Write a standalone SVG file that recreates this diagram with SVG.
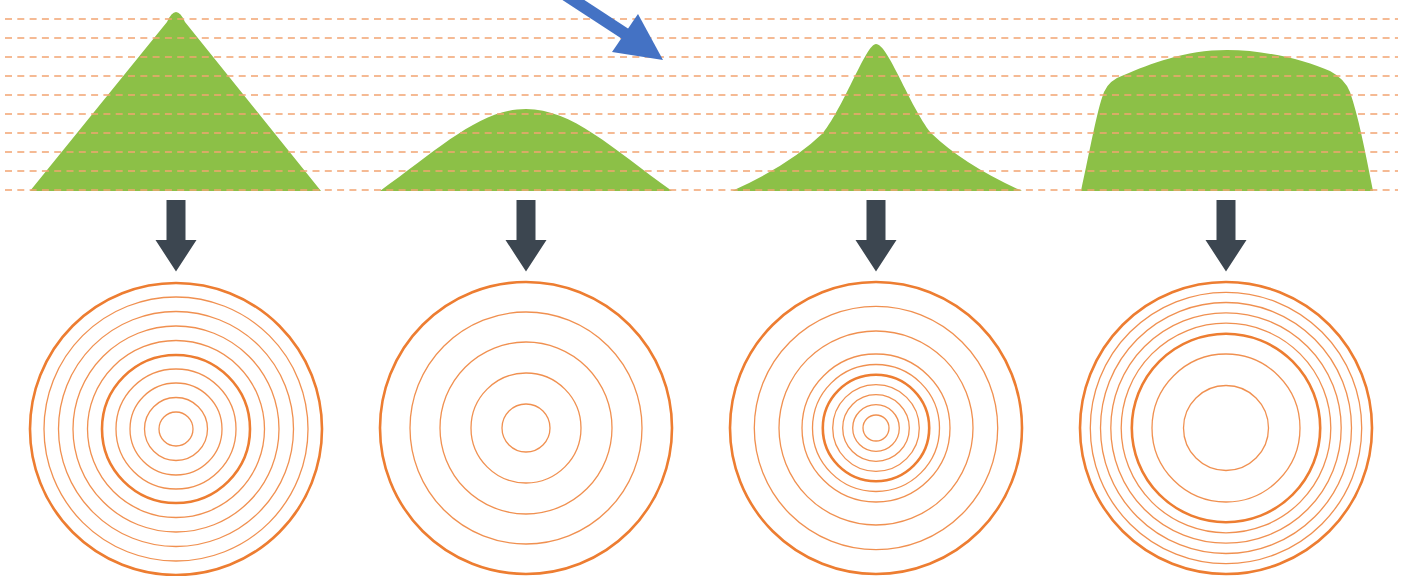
<svg xmlns="http://www.w3.org/2000/svg" width="1407" height="576" viewBox="0 0 1407 576">
<style>
.bg{fill:#ffffff}
.hill{fill:#8CC047}
.grid line{stroke:#F2A472;stroke-width:1.3;stroke-dasharray:7 5.3}
.ring{fill:none;stroke:#ED7D31;stroke-width:1.3;opacity:0.85}
.ring.thick{stroke-width:2.6;opacity:1}
.down{fill:#3C4650}
</style>
<rect class="bg" x="0" y="0" width="1407" height="576"/>
<g id="hills">
<path id="hill-1" class="hill" d="M30,191 L167,22 Q176,2 185,22 L321,191 Z"/>
<path id="hill-2" class="hill" d="M380,191 C440,148 480,109 526,109 C572,109 612,148 672,191 Z"/>
<path id="hill-3" class="hill" d="M732,191 Q790,165 823,133 C845,105 866,44 876,44 C888,44 909,105 931,133 Q964,165 1022,191 Z"/>
<path id="hill-4" class="hill" d="M1081,191 C1090,150 1097,110 1104,92 Q1109,80 1124,75 C1150,64 1185,50 1227,50 C1265,50 1305,60 1330,71 Q1345,79 1350,92 C1358,115 1365,150 1373,191 Z"/>
</g>
<g class="grid" id="grid">
<line x1="5" y1="19" x2="1398" y2="19"/>
<line x1="5" y1="38" x2="1398" y2="38"/>
<line x1="5" y1="57" x2="1398" y2="57"/>
<line x1="5" y1="76" x2="1398" y2="76"/>
<line x1="5" y1="95" x2="1398" y2="95"/>
<line x1="5" y1="114" x2="1398" y2="114"/>
<line x1="5" y1="133" x2="1398" y2="133"/>
<line x1="5" y1="152" x2="1398" y2="152"/>
<line x1="5" y1="171" x2="1398" y2="171"/>
<line x1="5" y1="190" x2="1398" y2="190"/>
</g>
<g id="rings-1">
<circle class="ring thick" cx="176" cy="429" r="146"/>
<circle class="ring" cx="176" cy="429" r="132"/>
<circle class="ring" cx="176" cy="429" r="117.5"/>
<circle class="ring" cx="176" cy="429" r="103"/>
<circle class="ring" cx="176" cy="429" r="88.5"/>
<circle class="ring thick" cx="176" cy="429" r="74"/>
<circle class="ring" cx="176" cy="429" r="60"/>
<circle class="ring" cx="176" cy="429" r="46"/>
<circle class="ring" cx="176" cy="429" r="31.5"/>
<circle class="ring" cx="176" cy="429" r="17"/>
</g>
<g id="rings-2">
<circle class="ring thick" cx="526" cy="428" r="146"/>
<circle class="ring" cx="526" cy="428" r="116"/>
<circle class="ring" cx="526" cy="428" r="86"/>
<circle class="ring" cx="526" cy="428" r="55"/>
<circle class="ring" cx="526" cy="428" r="24"/>
</g>
<g id="rings-3">
<circle class="ring thick" cx="876" cy="428" r="146"/>
<circle class="ring" cx="876" cy="428" r="121.7"/>
<circle class="ring" cx="876" cy="428" r="97"/>
<circle class="ring" cx="876" cy="428" r="74"/>
<circle class="ring" cx="876" cy="428" r="63.5"/>
<circle class="ring thick" cx="876" cy="428" r="53.2"/>
<circle class="ring" cx="876" cy="428" r="43.3"/>
<circle class="ring" cx="876" cy="428" r="33.3"/>
<circle class="ring" cx="876" cy="428" r="23.3"/>
<circle class="ring" cx="876" cy="428" r="13"/>
</g>
<g id="rings-4">
<circle class="ring thick" cx="1226" cy="428" r="146"/>
<circle class="ring" cx="1226" cy="428" r="135.7"/>
<circle class="ring" cx="1226" cy="428" r="125.5"/>
<circle class="ring" cx="1226" cy="428" r="115.2"/>
<circle class="ring" cx="1226" cy="428" r="104.8"/>
<circle class="ring thick" cx="1226" cy="428" r="94.2"/>
<circle class="ring" cx="1226" cy="428" r="74"/>
<circle class="ring" cx="1226" cy="428" r="42.5"/>
</g>
<g id="connectors">
<path id="down-1" class="down" d="M166.5,200 H185.5 V240 H196.5 L176,271.5 L155.5,240 H166.5 Z"/>
<path id="down-2" class="down" d="M516.5,200 H535.5 V240 H546.5 L526,271.5 L505.5,240 H516.5 Z"/>
<path id="down-3" class="down" d="M866.5,200 H885.5 V240 H896.5 L876,271.5 L855.5,240 H866.5 Z"/>
<path id="down-4" class="down" d="M1216.5,200 H1235.5 V240 H1246.5 L1226,271.5 L1205.5,240 H1216.5 Z"/>
<g id="blue-arrow">
<line x1="555" y1="-12" x2="627" y2="35" stroke="#4472C4" stroke-width="12"/>
<polygon points="663,60 612,52 638,14" fill="#4472C4"/>
</g>
</g>
</svg>
